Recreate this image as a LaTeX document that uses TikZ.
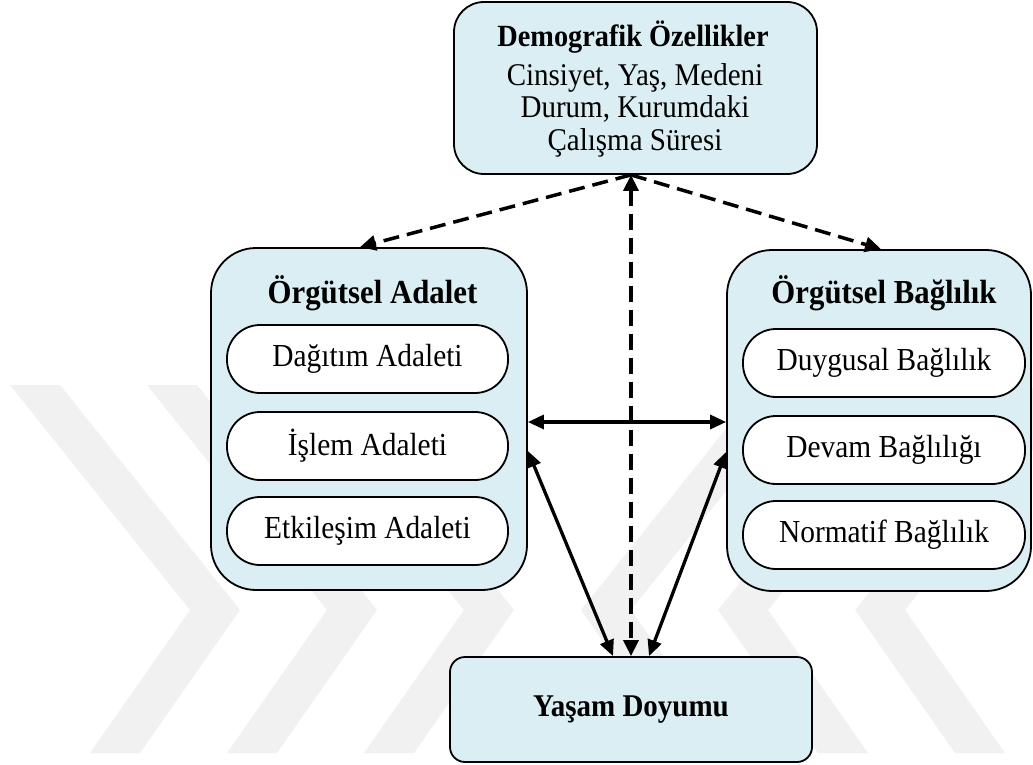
\documentclass[tikz,border=0pt]{standalone}
\usepackage{graphicx}
\usepackage{fontspec}
\setmainfont{Liberation Serif}
\usetikzlibrary{arrows.meta,calc}
\definecolor{boxfill}{HTML}{DAEEF3}
\definecolor{wmark}{HTML}{F1F1F1}
% slightly tall lettering
\newcommand\talltext[1]{\scalebox{1}[1.09]{#1}}

\begin{document}
\begin{tikzpicture}[x=1pt,y=-1pt,
  panel/.style={draw=black, line width=1.8pt, fill=boxfill, rounded corners=#1, inner sep=0pt},
  pill/.style={draw=black, line width=1.8pt, fill=white, rounded corners=33pt,
    minimum width=281pt, minimum height=68pt, inner sep=0pt,
    font=\fontsize{29.4}{32}\selectfont},
  title/.style={font=\fontsize{30.8}{34}\selectfont\bfseries, inner sep=0pt, anchor=base},
  line/.style={font=\fontsize{29}{32}\selectfont, inner sep=0pt, anchor=base},
  link/.style={line width=3.3pt,
    {Triangle[length=16pt,width=14pt]}-{Triangle[length=16pt,width=14pt]}},
  dlink/.style={line width=3.5pt, dash pattern=on 16pt off 8pt,
    -{Triangle[length=16pt,width=15pt]}},
  dlinkboth/.style={line width=3.5pt, dash pattern=on 16pt off 8pt,
    {Triangle[length=16pt,width=15pt]}-{Triangle[length=16pt,width=15pt]}},
]
\useasboundingbox (0,0) rectangle (1033,765);

% faint chevron background mark: three pointing right, three pointing left
\begin{scope}
\clip (0,0) rectangle (1033,765);
\foreach \s in {0,137,274} {
  \fill[wmark] (10+\s,385) -- (60+\s,385) -- (240+\s,610) -- (140+\s,753)
    -- (90+\s,753) -- (190+\s,610) -- cycle;
  \fill[wmark] (1085-\s,385) -- (1035-\s,385) -- (855-\s,610) -- (955-\s,753)
    -- (1005-\s,753) -- (905-\s,610) -- cycle;
}
\end{scope}

% demographic variables
\node[panel=30pt, minimum width=363pt, minimum height=172pt] (demo) at (635.5,88) {};
\node[line, font=\fontsize{28.3}{32}\selectfont\bfseries] (demoT) at (633,47) {\talltext{Demografik Özellikler}};
\node[line] (demoA) at (635,86) {\talltext{Cinsiyet, Yaş, Medeni}};
\node[line] (demoB) at (635,118) {\talltext{Durum, Kurumdaki}};
\node[line] (demoC) at (635,150) {\talltext{Çalışma Süresi}};

% organisational justice
\node[panel=45pt, minimum width=316pt, minimum height=342pt] (adalet) at (369,419) {};
\node[title] (adaletT) at (372.5,303) {\talltext{Örgütsel Adalet}};
\node[pill] (dagitim) at (367.5,359) {\talltext{Dağıtım Adaleti}};
\node[pill] (islem) at (367.5,446) {\talltext{İşlem Adaleti}};
\node[pill] (etkilesim) at (367.5,531) {\talltext{Etkileşim Adaleti}};

% organisational commitment
\node[panel=45pt, minimum width=304pt, minimum height=341pt] (baglilik) at (879,420.5) {};
\node[title] (baglilikT) at (884,303) {\talltext{Örgütsel Bağlılık}};
\node[pill, minimum width=282pt] (duygusal) at (884,363) {\talltext{Duygusal Bağlılık}};
\node[pill, minimum width=282pt] (devam) at (884,450) {\talltext{Devam Bağlılığı}};
\node[pill, minimum width=282pt] (normatif) at (884,535) {\talltext{Normatif Bağlılık}};

% life satisfaction
\node[panel=15pt, minimum width=362pt, minimum height=105pt,
  font=\fontsize{29}{32}\selectfont\bfseries] (yasam) at (631,709.5) {\talltext{Yaşam Doyumu}};

% connectors
\coordinate (hub) at (yasam.north |- demo.south);
\draw[dlink] (hub) -- ([xshift=-9pt]adalet.north);
\draw[dlink] (hub) -- ([xshift=2pt]baglilik.north);
\draw[dlinkboth] (hub) -- (yasam.north);
\draw[link] ([yshift=-3pt]adalet.east) -- ([yshift=-3pt]adalet.east -| baglilik.west);
\draw[link] ([yshift=-32pt]adalet.east) -- ([xshift=-18pt]yasam.north);
\draw[link] ([yshift=-31.5pt]baglilik.west) -- ([xshift=18pt]yasam.north);
\end{tikzpicture}
\end{document}
